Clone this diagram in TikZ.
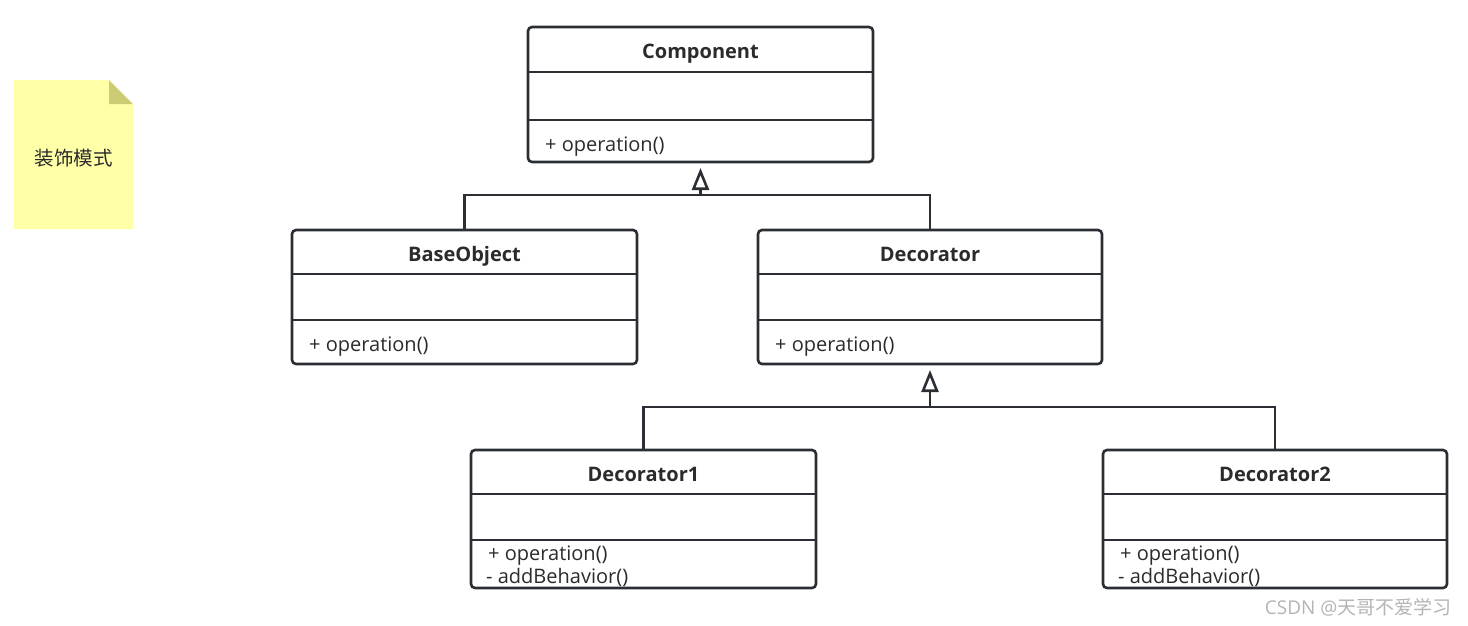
\documentclass[tikz,border=0pt]{standalone}
\usepackage{fontspec}
\setmainfont{Open Sans}
\newfontfamily\cjk{Noto Sans CJK SC}
\usetikzlibrary{arrows.meta}
\definecolor{linec}{HTML}{2B2F33}
\definecolor{textc}{HTML}{2B2B2B}
\definecolor{notefill}{HTML}{FFFFA8}
\definecolor{notefold}{HTML}{CCCC77}
\definecolor{wm}{HTML}{B4B4B4}
\tikzset{
  classbox/.style={draw=linec, line width=2.6pt, rounded corners=4pt, fill=white, inner sep=0pt},
  divider/.style={draw=linec, line width=2.6pt},
  title/.style={font=\fontsize{20}{22}\selectfont\bfseries, text=textc, inner sep=0pt, anchor=base},
  member/.style={font=\fontsize{20}{22}\selectfont, text=textc, inner sep=0pt, anchor=base west},
  conn/.style={draw=linec, line width=2.6pt},
  inherit/.style={conn, -{Triangle[open, length=22pt, width=17pt, line width=2.6pt]}},
}
\begin{document}
\begin{tikzpicture}[x=1pt, y=-1pt]
\useasboundingbox (0,0) rectangle (1468,625);

% note
\fill[notefill] (14,80) -- (109,80) -- (133,104) -- (133,229) -- (14,229) -- cycle;
\fill[notefold] (109,80) -- (133,104) -- (109,104) -- cycle;
\node[font=\cjk\fontsize{19.5}{22}\selectfont, text=textc] (note) at (73.5,158) {装饰模式};

% Component
\node[classbox, minimum width=345pt, minimum height=135pt] (comp) at (700.5,94.5) {};
\draw[divider] (528,72) -- (873,72);
\draw[divider] (528,120) -- (873,120);
\node[title] (compT) at (700.5,58) {Component};
\node[member] (compO) at (545,151) {+ operation()};

% BaseObject
\node[classbox, minimum width=345pt, minimum height=134pt] (base) at (464.5,297) {};
\draw[divider] (292,274) -- (637,274);
\draw[divider] (292,320) -- (637,320);
\node[title] (baseT) at (464.5,261) {BaseObject};
\node[member] (baseO) at (309,351) {+ operation()};

% Decorator
\node[classbox, minimum width=344pt, minimum height=134pt] (deco) at (930,297) {};
\draw[divider] (758,274) -- (1102,274);
\draw[divider] (758,320) -- (1102,320);
\node[title] (decoT) at (930,261) {Decorator};
\node[member] (decoO) at (775,351) {+ operation()};

% Decorator1
\node[classbox, minimum width=345pt, minimum height=138pt] (d1) at (643.5,519) {};
\draw[divider] (471,494) -- (816,494);
\draw[divider] (471,540) -- (816,540);
\node[title] (d1T) at (643.5,481) {Decorator1};
\node[member] (d1O) at (488,560) {+ operation()};
\node[member] (d1A) at (486,583.5) {- addBehavior()};

% Decorator2
\node[classbox, minimum width=344pt, minimum height=138pt] (d2) at (1275,519) {};
\draw[divider] (1103,494) -- (1447,494);
\draw[divider] (1103,540) -- (1447,540);
\node[title] (d2T) at (1275,481) {Decorator2};
\node[member] (d2O) at (1120,560) {+ operation()};
\node[member] (d2A) at (1118,583.5) {- addBehavior()};

% connectors
\coordinate (j1) at (700.5,195);
\coordinate (j1tip) at (700.5,168);
\draw[conn] (base.north) |- (j1) -| (deco.north);
\draw[inherit] (j1) -- (j1tip);

\coordinate (j2) at (930,407);
\coordinate (j2tip) at (930,370);
\draw[conn] (d1.north) |- (j2) -| (d2.north);
\draw[inherit] (j2) -- (j2tip);

% watermark
\node[font=\fontsize{19}{20}\selectfont, text=wm, anchor=east] (wmark) at (1455,607) {CSDN @{\cjk 天哥不爱学习}};
\end{tikzpicture}
\end{document}
